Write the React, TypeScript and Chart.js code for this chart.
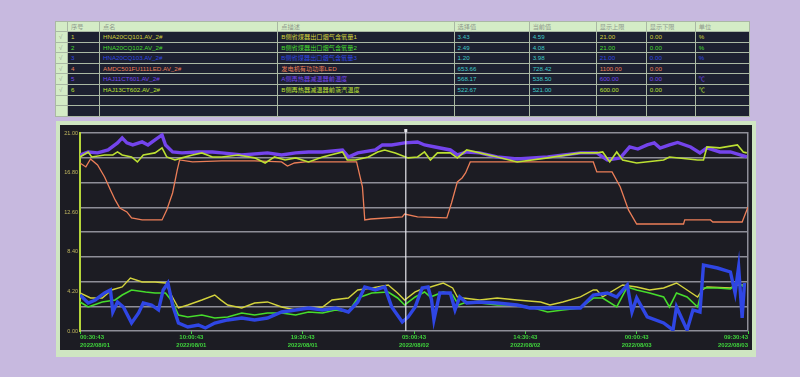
import React, { useEffect, useRef } from "react";
import { Chart, registerables } from "chart.js";
Chart.register(...registerables);

// ---------- table data ----------
const seqNums = ["1", "2", "3", "4", "5", "6"];
const pointNames = ["HNA20CQ101.AV_2#", "HNA20CQ102.AV_2#", "HNA20CQ103.AV_2#", "AMDC501FU111LED.AV_2#", "HAJ11CT601.AV_2#", "HAJ13CT602.AV_2#"];
const descriptions = ["B侧省煤器出口烟气含氧量1", "B侧省煤器出口烟气含氧量2", "B侧省煤器出口烟气含氧量3", "发电机有功功率LED", "A侧再热器减温器前温度", "B侧再热器减温器前蒸汽温度"];
const selectedValues = ["3.43", "2.49", "1.20", "653.66", "568.17", "522.67"];
const currentValues = ["4.59", "4.08", "3.98", "728.42", "538.50", "521.00"];
const upperLimits = ["21.00", "21.00", "21.00", "1100.00", "600.00", "600.00"];
const lowerLimits = ["0.00", "0.00", "0.00", "0.00", "0.00", "0.00"];
const units = ["%", "%", "%", "", "℃", "℃"];
const headers = ["", "序号", "点名", "点描述", "选择值", "当前值", "显示上限", "显示下限", "单位"];
const seriesColors = ["#d2d23c", "#46dc2c", "#2f46e4", "#ec7e58", "#7444ec", "#bce032"];

// ---------- chart data (x: hours from window start, y: trend axis 0–21) ----------
const xTickLabels = [
  ["00:30:43", "2022/08/01"],
  ["10:00:43", "2022/08/01"],
  ["19:30:43", "2022/08/01"],
  ["05:00:43", "2022/08/02"],
  ["14:30:43", "2022/08/02"],
  ["00:00:43", "2022/08/03"],
  ["09:30:43", "2022/08/03"],
];
const yTickValues = [0, 4.2, 8.4, 12.6, 16.8, 21];
const cursorHour = 27.8;

const s1T = [0, 0.9, 1.9, 2.7, 3.6, 4.3, 5.3, 6.4, 7.3, 7.7, 8.4, 9.2, 10.4, 11.5, 12.0, 12.6, 13.8, 14.9, 16.0, 17.2, 18.4, 19.5, 20.7, 21.5, 22.9, 23.7, 24.9, 26.3, 27.1, 27.7, 28.6, 29.4, 29.9, 31.0, 31.8, 32.2, 32.7, 34.1, 35.6, 37.3, 39.3, 40.1, 41.2, 42.7, 43.8, 44.1, 44.6, 46.3, 47.5, 48.6, 49.8, 50.9, 51.8, 52.7, 53.1, 53.5, 55.5, 56.1, 56.7];
const s1V = [4.03, 3.5, 3.5, 4.35, 4.67, 5.62, 5.2, 5.2, 5.09, 4.03, 2.44, 2.76, 3.29, 3.82, 3.3, 2.76, 2.44, 2.97, 3.08, 2.55, 2.23, 2.44, 2.55, 3.29, 3.5, 4.35, 4.56, 4.88, 4.03, 3.29, 4.14, 4.56, 4.67, 5.09, 4.56, 3.61, 3.5, 3.29, 3.5, 3.29, 3.08, 2.76, 3.08, 3.61, 4.35, 4.35, 3.61, 4.88, 4.67, 4.35, 4.56, 5.09, 4.35, 3.61, 4.35, 4.67, 4.56, 4.88, 4.88];

const s2T = [0, 0.7, 1.9, 3.0, 3.6, 4.4, 5.6, 6.4, 7.3, 7.9, 8.4, 9.2, 10.4, 11.5, 12.6, 13.8, 14.9, 16.0, 17.2, 18.4, 19.5, 20.7, 21.8, 22.9, 23.7, 24.9, 26.3, 27.1, 27.7, 28.6, 29.4, 29.9, 31.0, 31.8, 32.3, 33.0, 34.1, 35.6, 37.3, 38.4, 39.9, 41.2, 42.7, 43.8, 44.6, 45.8, 46.7, 47.5, 48.6, 49.8, 50.3, 50.9, 51.8, 52.7, 53.1, 54.4, 55.5, 56.1, 56.7];
const s2V = [3.08, 2.55, 3.08, 3.29, 3.82, 4.35, 4.14, 4.03, 4.03, 3.08, 1.7, 1.49, 1.7, 1.38, 1.49, 1.91, 1.7, 1.91, 1.91, 1.7, 2.02, 1.91, 2.23, 2.02, 3.5, 4.03, 4.14, 3.5, 2.76, 3.61, 4.14, 3.61, 4.14, 3.82, 2.76, 3.08, 2.97, 2.76, 2.76, 2.55, 2.02, 2.23, 2.44, 3.5, 3.5, 2.55, 4.67, 4.35, 4.03, 3.61, 2.55, 4.03, 3.61, 2.55, 4.56, 4.56, 4.46, 5.09, 4.67];

const s3T = [0, 0.7, 1.3, 2.1, 2.6, 2.8, 3.2, 3.7, 4.4, 5.0, 5.4, 6.1, 6.7, 7.1, 7.5, 7.9, 8.4, 9.2, 10.1, 10.7, 11.5, 12.6, 13.8, 14.9, 16.0, 17.2, 18.4, 19.5, 20.7, 21.8, 22.9, 23.7, 24.3, 25.2, 26.0, 26.6, 27.5, 28.0, 28.6, 29.2, 29.7, 30.0, 30.2, 30.7, 31.6, 32.0, 32.4, 33.0, 34.1, 35.6, 37.3, 38.4, 39.9, 41.2, 42.7, 43.8, 45.0, 45.8, 46.7, 47.1, 47.5, 48.4, 49.8, 50.6, 50.9, 51.8, 52.3, 52.9, 53.2, 54.4, 55.5, 55.9, 56.2, 56.5, 56.7];
const s3V = [3.82, 2.97, 3.29, 4.03, 4.35, 2.02, 3.08, 2.55, 0.85, 1.91, 2.97, 2.76, 2.23, 4.35, 5.09, 2.76, 0.85, 0.42, 0.64, 0.32, 0.85, 1.17, 1.38, 1.17, 1.38, 2.02, 2.23, 2.44, 2.23, 2.44, 2.02, 3.08, 4.67, 4.35, 4.67, 2.55, 0.95, 1.49, 2.55, 4.56, 4.67, 3.29, 1.17, 4.03, 4.03, 2.23, 3.61, 2.97, 3.08, 2.97, 2.76, 2.44, 2.44, 2.44, 2.44, 3.82, 4.03, 3.61, 4.88, 2.02, 3.5, 1.49, 0.85, 0.11, 2.55, 0.11, 2.23, 2.02, 7.0, 6.68, 6.26, 4.03, 6.79, 1.38, 5.09];

const s4T = [0, 0.5, 0.9, 1.5, 2.1, 2.6, 3.0, 3.4, 4.0, 4.4, 5.3, 7.0, 7.4, 7.9, 8.3, 8.5, 9.6, 12.1, 14.9, 17.2, 17.7, 18.3, 19.2, 23.6, 24.1, 24.3, 24.8, 27.5, 27.7, 28.8, 31.3, 31.7, 32.2, 32.6, 32.9, 33.3, 43.8, 44.1, 45.4, 46.1, 46.8, 47.5, 51.5, 51.6, 53.8, 54.0, 56.5, 57];
const s4V = [17.82, 17.4, 18.25, 17.61, 16.34, 14.96, 13.9, 13.05, 12.63, 11.99, 11.78, 11.78, 12.84, 14.64, 17.08, 18.14, 17.93, 18.04, 18.04, 17.93, 17.5, 17.82, 17.93, 17.93, 15.28, 11.78, 11.88, 12.1, 12.41, 12.1, 11.99, 13.58, 15.81, 16.23, 16.76, 17.93, 17.93, 16.87, 16.87, 15.28, 12.84, 11.35, 11.35, 11.78, 11.78, 11.56, 11.56, 13.16];

const s5T = [0, 0.7, 1.5, 2.4, 3.2, 3.6, 4.0, 4.5, 5.3, 5.8, 6.4, 7.0, 7.3, 7.9, 8.7, 10.1, 11.3, 12.1, 13.8, 16.0, 17.2, 18.4, 19.5, 20.7, 22.4, 22.9, 23.7, 25.2, 25.8, 26.6, 27.7, 28.8, 29.4, 30.3, 31.6, 32.2, 33.0, 34.1, 35.6, 37.3, 39.9, 42.7, 44.1, 45.0, 46.1, 46.9, 47.6, 48.4, 49.0, 49.5, 50.3, 51.0, 52.1, 52.9, 53.5, 54.6, 55.5, 56.9];
const s5V = [18.67, 18.99, 18.89, 19.2, 19.95, 20.48, 19.95, 19.73, 20.05, 19.73, 20.27, 20.8, 19.73, 18.99, 18.89, 18.99, 18.99, 18.89, 18.67, 18.89, 18.67, 18.89, 18.99, 18.99, 19.2, 18.46, 18.89, 19.2, 19.73, 19.73, 19.95, 20.05, 19.73, 19.52, 19.2, 18.67, 18.99, 18.89, 18.46, 18.25, 18.46, 18.89, 18.89, 18.14, 18.36, 19.52, 19.3, 19.73, 19.95, 19.4, 19.73, 20.0, 19.52, 18.89, 19.42, 18.99, 18.99, 18.46];

const s6T = [0, 0.7, 1.0, 2.1, 2.8, 3.2, 3.6, 4.4, 4.9, 5.4, 6.4, 7.0, 7.4, 8.1, 8.7, 9.6, 10.4, 11.3, 12.1, 13.5, 14.9, 15.8, 16.6, 17.5, 18.4, 19.5, 20.7, 22.4, 22.8, 23.5, 24.6, 25.4, 26.0, 26.9, 28.0, 28.8, 29.4, 29.9, 30.5, 31.6, 32.2, 33.0, 34.1, 35.6, 37.3, 39.9, 42.7, 44.1, 44.6, 45.2, 45.8, 46.3, 47.5, 49.8, 50.3, 52.7, 53.2, 53.5, 54.6, 56.1, 56.6, 56.9];
const s6V = [18.46, 18.99, 18.46, 18.67, 18.67, 18.99, 18.67, 18.46, 17.93, 18.67, 18.89, 19.42, 18.46, 18.14, 18.36, 18.67, 18.89, 18.46, 18.46, 18.67, 18.36, 17.82, 18.46, 18.14, 18.36, 17.93, 18.46, 18.99, 18.14, 18.14, 18.46, 18.99, 19.2, 18.89, 18.36, 18.46, 18.99, 18.14, 18.89, 18.89, 18.36, 19.2, 18.89, 18.46, 17.93, 18.36, 18.89, 18.89, 18.99, 17.93, 18.99, 18.14, 17.82, 18.14, 18.46, 18.14, 18.14, 19.52, 19.42, 19.73, 18.99, 18.89];

const seriesT = [s1T, s2T, s3T, s4T, s5T, s6T];
const seriesV = [s1V, s2V, s3V, s4V, s5V, s6V];
const seriesWidths = [1.4, 1.6, 3.4, 1.3, 3.4, 1.6];
const seriesOrder = [3, 2, 1, 6, 5, 4];

const FONT = '"Liberation Sans", "Noto Sans CJK SC", sans-serif';
const colWidths = [12, 32, 178, 176, 75, 67, 50, 49, 54];

function DataTable() {
  const cellBase: React.CSSProperties = {
    border: "1px solid #aab8a4",
    padding: "0 3px",
    whiteSpace: "nowrap",
    overflow: "hidden",
    fontSize: 6.2,
    lineHeight: "9.6px",
    height: 9.6,
    boxSizing: "content-box",
  };
  const rows = [0, 1, 2, 3, 4, 5, 6, 7];
  return (
    <table
      style={{
        position: "absolute",
        left: 55,
        top: 21,
        width: 695,
        borderCollapse: "collapse",
        tableLayout: "fixed",
        background: "#d2eac2",
        fontFamily: FONT,
      }}
    >
      <colgroup>
        {colWidths.map((w, i) => (
          <col key={i} style={{ width: w }} />
        ))}
      </colgroup>
      <tbody>
        <tr style={{ height: 10 }}>
          {headers.map((h, i) => (
            <td key={i} style={{ ...cellBase, color: "#8f9a8c", background: "#d4ecc6", height: 9, lineHeight: "9px" }}>
              {h}
            </td>
          ))}
        </tr>
        {rows.map((r) => {
          const has = r < seqNums.length;
          const c = has ? seriesColors[r] : "#fff";
          const dark = { ...cellBase, background: "#1d2031" };
          return (
            <tr key={r} style={{ height: 10.6 }}>
              <td style={{ ...cellBase, background: "#d4ecc6", color: "#9aa694" }}>{has ? "√" : ""}</td>
              <td style={{ ...dark, color: c }}>{has ? seqNums[r] : ""}</td>
              <td style={{ ...dark, color: c }}>{has ? pointNames[r] : ""}</td>
              <td style={{ ...dark, color: c }}>{has ? descriptions[r] : ""}</td>
              <td style={{ ...dark, color: "#3ec8c8" }}>{has ? selectedValues[r] : ""}</td>
              <td style={{ ...dark, color: "#3ec8c8" }}>{has ? currentValues[r] : ""}</td>
              <td style={{ ...dark, color: c }}>{has ? upperLimits[r] : ""}</td>
              <td style={{ ...dark, color: c }}>{has ? lowerLimits[r] : ""}</td>
              <td style={{ ...dark, color: c }}>{has ? units[r] : ""}</td>
            </tr>
          );
        })}
      </tbody>
    </table>
  );
}

function TrendChart() {
  const ref = useRef<HTMLCanvasElement | null>(null);
  useEffect(() => {
    if (!ref.current) return;
    const cursorPlugin = {
      id: "cursor",
      afterDatasetsDraw(chart: any) {
        const xs = chart.scales.x;
        const area = chart.chartArea;
        const x = xs.getPixelForValue(cursorHour);
        const ctx = chart.ctx;
        ctx.save();
        ctx.strokeStyle = "#e8e8ee";
        ctx.lineWidth = 1.2;
        ctx.beginPath();
        ctx.moveTo(x, area.top - 3);
        ctx.lineTo(x, area.bottom);
        ctx.stroke();
        ctx.fillStyle = "#e8e8ee";
        ctx.fillRect(x - 1.5, area.top - 4, 3, 3);
        ctx.restore();
      },
    };
    const chart = new Chart(ref.current, {
      type: "line",
      data: {
        datasets: seriesT.map((T, i) => ({
          label: pointNames[i],
          data: T.map((t, j) => ({ x: t, y: seriesV[i][j] })),
          borderColor: seriesColors[i],
          borderWidth: seriesWidths[i],
          pointRadius: 0,
          tension: 0,
          fill: false,
          order: seriesOrder[i],
        })),
      },
      options: {
        animation: false,
        responsive: false,
        maintainAspectRatio: false,
        layout: { padding: { top: 8, right: 4, left: 0, bottom: 0 } },
        plugins: { legend: { display: false }, tooltip: { enabled: false } },
        scales: {
          x: {
            type: "linear",
            min: 0,
            max: 57,
            afterBuildTicks: (s: any) => {
              s.ticks = xTickLabels.map((_, i) => ({ value: i * 9.5 }));
            },
            afterFit: (s: any) => {
              s.height = 19;
            },
            ticks: {
              autoSkip: false,
              maxRotation: 0,
              align: "inner",
              padding: 0,
              color: "#3fd23c",
              font: { family: FONT, size: 6, weight: "bold", lineHeight: 1.25 },
              callback: (v: any) => xTickLabels[Math.round(Number(v) / 9.5)] ?? "",
            },
            grid: { drawOnChartArea: false, drawTicks: true, tickLength: 3, color: "#3fd23c", lineWidth: 1 },
            border: { display: false },
          },
          y: {
            min: 0,
            max: 21,
            position: "left",
            afterBuildTicks: (s: any) => {
              s.ticks = yTickValues.map((v) => ({ value: v }));
            },
            afterFit: (s: any) => {
              s.width = 24;
            },
            ticks: {
              padding: 2,
              color: "#c2b860",
              font: { family: FONT, size: 5.5 },
              callback: (v: any) => Number(v).toFixed(2),
            },
            grid: { display: false, drawTicks: false },
            border: { display: true, color: "#b6d63a", width: 2 },
          },
          yg: {
            min: 0,
            max: 21,
            position: "right",
            afterBuildTicks: (s: any) => {
              s.ticks = [0, 1, 2, 3, 4, 5, 6, 7, 8].map((k) => ({ value: (21 * k) / 8 }));
            },
            afterFit: (s: any) => {
              s.width = 0;
            },
            ticks: { display: false },
            grid: { color: "#8e8e98", lineWidth: 1.5, drawTicks: false },
            border: { display: true, color: "#8e8e98", width: 1.5 },
          },
        },
      },
      plugins: [cursorPlugin],
    } as any);
    return () => chart.destroy();
  }, []);
  return (
    <canvas
      ref={ref}
      width={696}
      height={225}
      style={{ position: "absolute", left: 56, top: 125, width: 696, height: 225, display: "block" }}
    />
  );
}

export default function App() {
  return (
    <div
      style={{
        position: "fixed",
        left: 0,
        top: 0,
        width: 800,
        height: 377,
        background: "#c7b9df",
        overflow: "hidden",
      }}
    >
      <DataTable />
      <div
        style={{
          position: "absolute",
          left: 56,
          top: 121,
          width: 700,
          height: 236,
          background: "#cfe6c2",
        }}
      />
      <div
        style={{
          position: "absolute",
          left: 60,
          top: 125,
          width: 692,
          height: 225,
          background: "#1c1c23",
        }}
      />
      <TrendChart />
    </div>
  );
}
